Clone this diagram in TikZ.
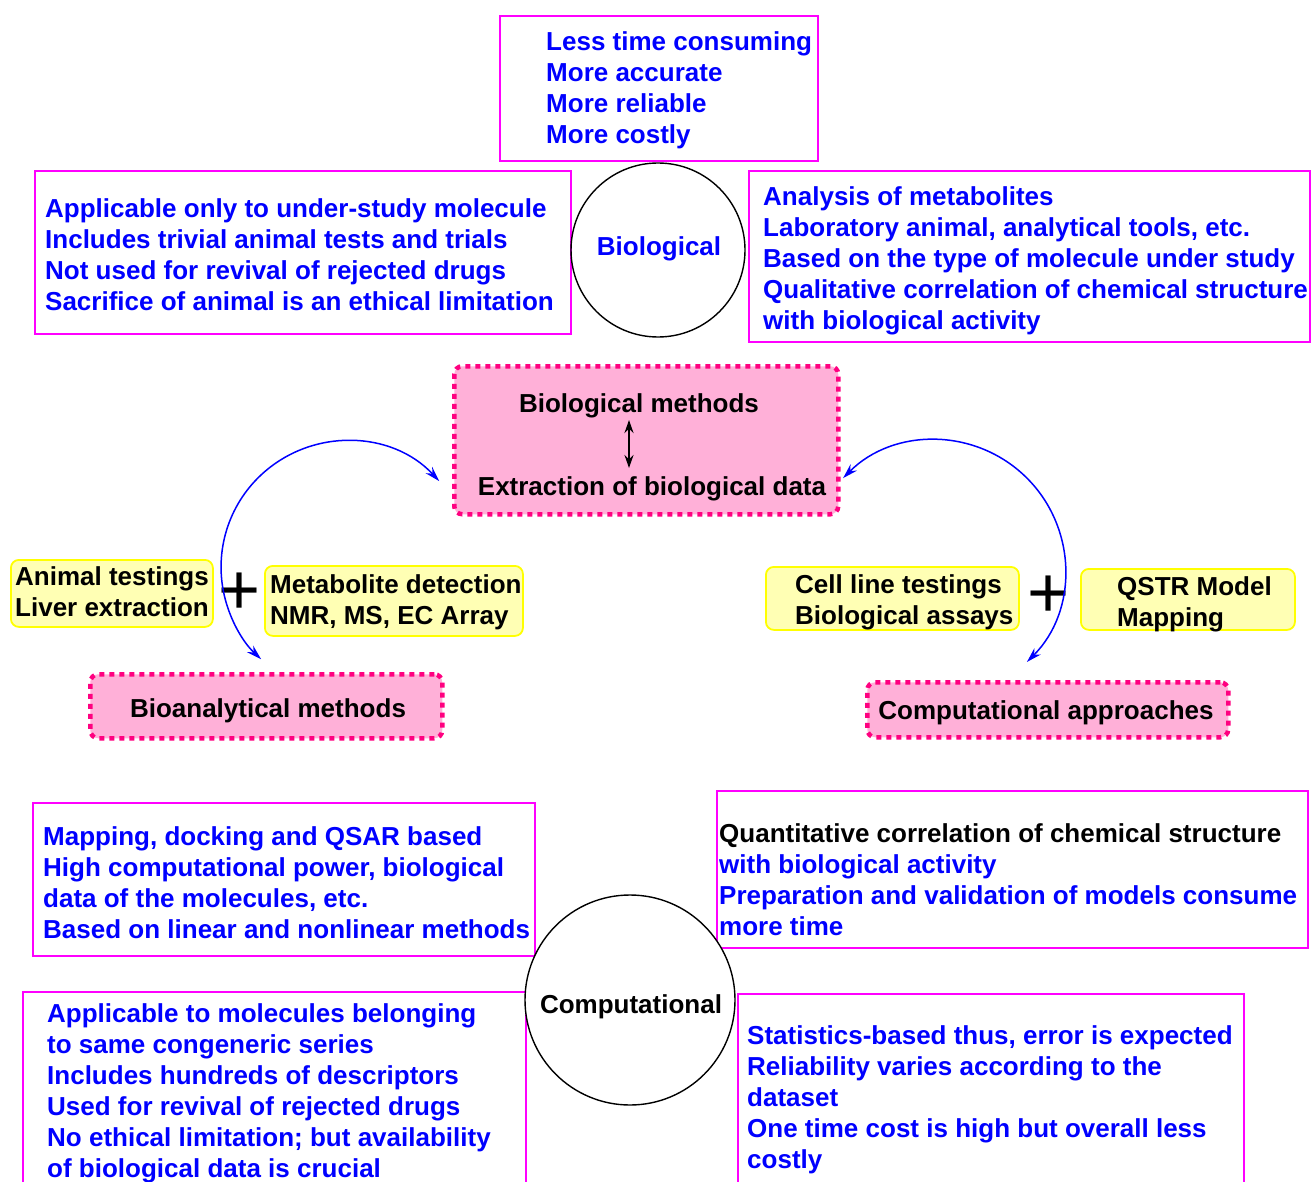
\documentclass[tikz,border=0pt]{standalone}
\usepackage{fontspec}
\setmainfont{Liberation Sans}
\usetikzlibrary{arrows.meta}
\definecolor{boxmag}{RGB}{255,0,255}
\definecolor{txtblue}{RGB}{0,0,255}
\definecolor{pinkfill}{RGB}{255,176,216}
\definecolor{pinkdot}{RGB}{255,0,128}
\definecolor{yelfill}{RGB}{255,255,180}
\definecolor{yeldraw}{RGB}{255,255,0}
\begin{document}
\begin{tikzpicture}[x=1pt,y=-1pt,
  bodyfont/.style={font=\fontsize{26}{31}\selectfont\bfseries},
  infobox/.style={rectangle, draw=boxmag, line width=1.6pt, anchor=north west, inner sep=0},
  listtext/.style={bodyfont, text=txtblue, align=left, anchor=north west, inner sep=0},
  darktext/.style={bodyfont, text=black, align=left, anchor=north west, inner sep=0},
  labeltext/.style={bodyfont, anchor=base, inner sep=0},
  pinkbox/.style={rectangle, fill=pinkfill, draw=pinkdot, line width=4.5pt,
    dash pattern=on 5pt off 5pt, rounded corners=8pt, anchor=north west, inner sep=0},
  yelbox/.style={rectangle, fill=yelfill, draw=yeldraw, line width=1.8pt,
    rounded corners=8pt, anchor=north west, inner sep=0},
  ringnode/.style={circle, draw=black, line width=1.4pt, inner sep=0},
  plussign/.style={font=\fontsize{72}{72}\selectfont, anchor=base, inner sep=0},
  bluearc/.style={draw=txtblue, line width=1.5pt, {Stealth[length=15pt,width=9pt]}-{Stealth[length=15pt,width=9pt]}},
  linkarrow/.style={draw=black, line width=2.2pt, {Stealth[length=13pt,width=9pt]}-{Stealth[length=13pt,width=9pt]}}
]
\path[use as bounding box] (0,0) rectangle (1311,1182);
\clip (0,0) rectangle (1311,1182);
\fill[white] (0,0) rectangle (1311,1182);

% ---- Biological circle and its notes ----
\node[infobox, minimum width=318, minimum height=145] (topbox) at (499,15) {};
\node[listtext] (toptext) at (546,31) {Less time consuming\\More accurate\\More reliable\\More costly};

\node[infobox, minimum width=536, minimum height=163] (bioleft) at (34,170) {};
\node[listtext] (biolefttext) at (45,198) {Applicable only to under-study molecule\\Includes trivial animal tests and trials\\Not used for revival of rejected drugs\\Sacrifice of animal is an ethical limitation};

\node[infobox, minimum width=561, minimum height=171] (bioright) at (748,170) {};
\node[listtext] (biorighttext) at (763,186) {Analysis of metabolites\\Laboratory animal, analytical tools, etc.\\Based on the type of molecule under study\\Qualitative correlation of chemical structure\\with biological activity};

\node[ringnode, minimum size=174] (biocircle) at (658,250) {};
\node[labeltext, text=txtblue] (biolabel) at (659,255) {Biological};

% ---- central box ----
\node[pinkbox, minimum width=384, minimum height=148] (central) at (452,364) {};
\node[labeltext] (biomethods) at (639,412) {Biological methods};
\node[labeltext] (extraction) at (652,495) {Extraction of biological data};
\coordinate (linktop) at (629,420);
\coordinate (linkbottom) at (629,468);
\draw[linkarrow] (linktop) -- (linkbottom);

% ---- left branch ----
\node[yelbox, minimum width=202, minimum height=67] (animalbox) at (10,559) {};
\node[darktext] (animaltext) at (15,566) {Animal testings\\Liver extraction};
\node[plussign] (plusleft) at (240,614) {+};
\node[yelbox, minimum width=258, minimum height=70] (metabox) at (264,565) {};
\node[darktext] (metatext) at (270,574) {Metabolite detection\\NMR, MS, EC Array};
\node[pinkbox, minimum width=352, minimum height=64] (bioanalytical) at (88,672) {};
\node[labeltext] (bioanalyticaltext) at (268,717) {Bioanalytical methods};

\coordinate (leftarcA) at (439.2,481.1);
\draw[bluearc] (leftarcA) arc[start angle=-43, end angle=-227, radius=126];

% ---- right branch ----
\node[yelbox, minimum width=253, minimum height=63] (cellbox) at (765,566) {};
\node[darktext] (celltext) at (795,574) {Cell line testings\\Biological assays};
\node[plussign] (plusright) at (1049,617) {+};
\node[yelbox, minimum width=214, minimum height=61] (qstrbox) at (1080,568) {};
\node[darktext] (qstrtext) at (1117,576) {QSTR Model\\Mapping};
\node[pinkbox, minimum width=361, minimum height=55] (compapproach) at (865,680) {};
\node[labeltext] (compapproachtext) at (1046,719) {Computational approaches};

\coordinate (rightarcA) at (843.1,478.1);
\draw[bluearc] (rightarcA) arc[start angle=-135, end angle=45, radius=130];

% ---- Computational circle and its notes ----
\node[infobox, minimum width=502, minimum height=153] (compleft) at (32,802) {};
\node[listtext] (complefttext) at (43,826) {Mapping, docking and QSAR based\\High computational power, biological\\data of the molecules, etc.\\Based on linear and nonlinear methods};

\node[infobox, minimum width=591, minimum height=157] (compright) at (716,790) {};
\node[listtext] (comprighttext) at (719,823) {\textcolor{black}{Quantitative correlation of chemical structure}\\with biological activity\\Preparation and validation of models consume\\more time};

\node[infobox, minimum width=503, minimum height=220] (complower) at (22,991) {};
\node[listtext] (complowertext) at (47,1003) {Applicable to molecules belonging\\to same congeneric series\\Includes hundreds of descriptors\\Used for revival of rejected drugs\\No ethical limitation; but availability\\of biological data is crucial};

\node[infobox, minimum width=506, minimum height=220] (compcost) at (737,993) {};
\node[listtext] (compcosttext) at (747,1025) {Statistics-based thus, error is expected\\Reliability varies according to the\\dataset\\One time cost is high but overall less\\costly};

\node[ringnode, minimum size=210, fill=white] (compcircle) at (630,1000) {};
\node[labeltext] (complabel) at (631,1013) {Computational};
\end{tikzpicture}
\end{document}
